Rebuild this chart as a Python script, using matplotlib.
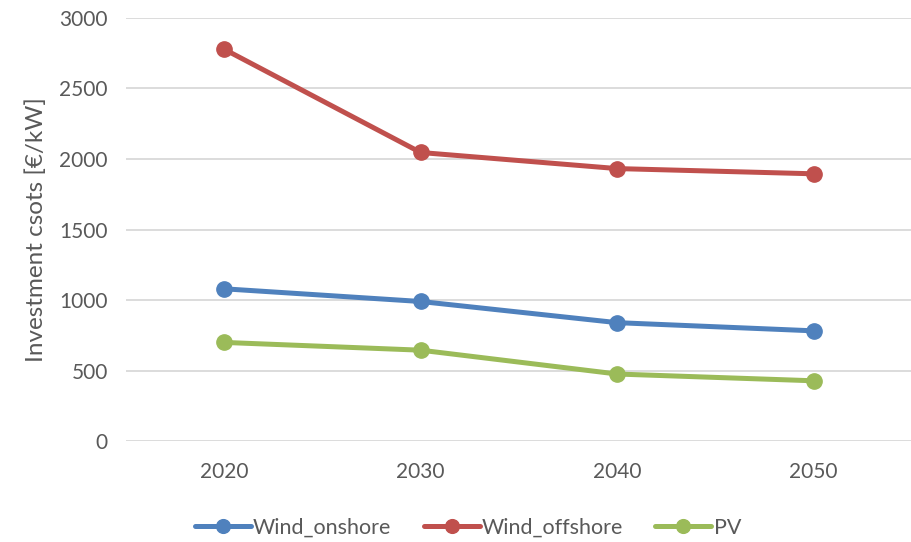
import matplotlib
matplotlib.use('Agg')
import matplotlib.pyplot as plt

years = ['2020', '2030', '2040', '2050']
wind_onshore = [1080, 990, 840, 782]
wind_offshore = [2778, 2046, 1932, 1895]
pv = [700, 645, 476, 428]

series = [
    ("Wind_onshore", wind_onshore, "#4F81BD"),
    ("Wind_offshore", wind_offshore, "#C0504D"),
    ("PV", pv, "#9BBB59"),
]

plt.rcParams['font.family'] = ['Lato', 'DejaVu Sans']
text_color = "#595959"

fig = plt.figure(figsize=(9.12, 5.42), dpi=100)
ax = fig.add_axes([0.138, 0.186, 0.862, 0.781])

x = list(range(len(years)))
for name, vals, col in series:
    ax.plot(x, vals, color=col, lw=3.6, marker='o', markersize=11,
            label=name, solid_capstyle='round')

ax.set_xlim(-0.5, len(years) - 0.5)
ax.set_ylim(0, 3000)
ax.set_yticks(range(0, 3001, 500))
ax.set_xticks(x)
ax.set_xticklabels(years)
ax.grid(axis='y', color='#D9D9D9', lw=1.3)
ax.set_axisbelow(True)
for s in ax.spines.values():
    s.set_visible(False)
ax.tick_params(length=0, labelsize=15, colors=text_color, pad=15)
ax.tick_params(axis='y', pad=13)
ax.set_ylabel("Investment csots [€/kW]", fontsize=17.5, color=text_color, labelpad=9)

fig.legend(loc='lower center', bbox_to_anchor=(0.513, -0.028), ncol=3, frameon=False,
           fontsize=15.5, handlelength=2.6, columnspacing=1.5, handletextpad=0.1,
           markerscale=0.9, labelcolor=text_color)

fig.savefig("out.png", dpi=100)
